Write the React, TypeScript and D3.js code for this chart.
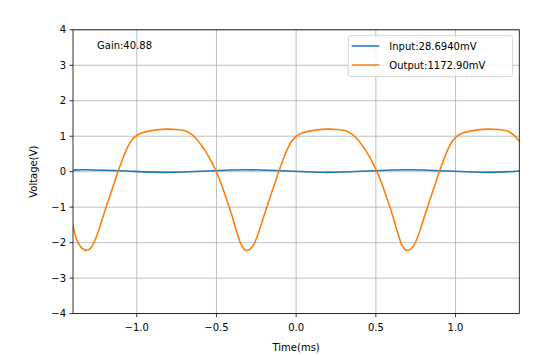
import React from "react";
import * as d3 from "d3";

const outT = [-1.4, -1.378, -1.347, -1.315, -1.284, -1.252, -1.221, -1.19, -1.158, -1.127, -1.095, -1.064, -1.033, -1.001, -0.97, -0.939, -0.876, -0.813, -0.75, -0.688, -0.656, -0.625, -0.594, -0.562, -0.531, -0.499, -0.468, -0.437, -0.405, -0.374, -0.343, -0.324,
  -0.307, -0.276, -0.244, -0.213, -0.182, -0.15, -0.119, -0.087, -0.056, -0.025, 0.007, 0.038, 0.069, 0.132, 0.195, 0.258, 0.32, 0.352, 0.383, 0.414, 0.446, 0.477, 0.509, 0.54, 0.571, 0.603, 0.634, 0.665, 0.684,
  0.701, 0.732, 0.764, 0.795, 0.826, 0.858, 0.889, 0.921, 0.952, 0.983, 1.015, 1.046, 1.077, 1.14, 1.203, 1.266, 1.328, 1.36, 1.4];
const outV = [-1.5, -1.9, -2.14, -2.22, -2.12, -1.82, -1.4, -0.97, -0.54, -0.12, 0.28, 0.63, 0.88, 1.02, 1.09, 1.13, 1.18, 1.2, 1.19, 1.14, 1.05, 0.92, 0.74, 0.53, 0.28, -0.02, -0.37, -0.77, -1.2, -1.68, -2.08, -2.2,
  -2.22, -2.12, -1.82, -1.4, -0.97, -0.54, -0.12, 0.28, 0.63, 0.88, 1.02, 1.09, 1.13, 1.18, 1.2, 1.19, 1.14, 1.05, 0.92, 0.74, 0.53, 0.28, -0.02, -0.37, -0.77, -1.2, -1.68, -2.08, -2.2,
  -2.22, -2.12, -1.82, -1.4, -0.97, -0.54, -0.12, 0.28, 0.63, 0.88, 1.02, 1.09, 1.13, 1.18, 1.2, 1.19, 1.14, 1.05, 0.86];

const inT = [-1.4, -1.315, -1.063, -0.811, -0.559, -0.307, -0.055, 0.197, 0.449, 0.701, 0.953, 1.205, 1.4];
const inV = [0.045, 0.055, 0.018, -0.018, 0.018, 0.055, 0.018, -0.018, 0.018, 0.055, 0.018, -0.018, 0.02];

const xTicks = [-1.0, -0.5, 0.0, 0.5, 1.0];
const yTicks = [-4, -3, -2, -1, 0, 1, 2, 3, 4];
const legendLabels = ["Input:28.6940mV", "Output:1172.90mV"];
const gainLabel = "Gain:40.88";
const colors = ["#1f77b4", "#ff7f0e"];

const W = 539, H = 355;
const L = 73, R = 519.3, T = 29.8, B = 313.6;
const font = "DejaVu Sans, sans-serif";

export default function App() {
  const x = d3.scaleLinear().domain([-1.4, 1.4]).range([L, R]);
  const y = d3.scaleLinear().domain([-4, 4]).range([B, T]);
  const fmtX = (v: number) => d3.format(".1f")(v).replace("-", "\u2212");
  const fmtY = (v: number) => String(v).replace("-", "\u2212");

  const outPts = outT.map((t, i) => [t, outV[i]] as [number, number]);
  const inPts = inT.map((t, i) => [t, inV[i]] as [number, number]);
  const lineOut = d3.line<[number, number]>().x(d => x(d[0])).y(d => y(d[1])).curve(d3.curveCatmullRom.alpha(0.5));
  const lineIn = d3.line<[number, number]>().x(d => x(d[0])).y(d => y(d[1])).curve(d3.curveNatural);

  return (
    <svg width={W} height={H} style={{ position: "absolute", left: 0, top: 0, background: "#fff" }} fontFamily={font}>
      <rect x={0} y={0} width={W} height={H} fill="#fff" />
      <defs>
        <clipPath id="plotclip"><rect x={L} y={T} width={R - L} height={B - T} /></clipPath>
      </defs>
      {xTicks.map(t => (
        <line key={"gx" + t} x1={x(t)} x2={x(t)} y1={T} y2={B} stroke="#b0b0b0" strokeWidth={0.8} />
      ))}
      {yTicks.map(t => (
        <line key={"gy" + t} x1={L} x2={R} y1={y(t)} y2={y(t)} stroke="#b0b0b0" strokeWidth={0.8} />
      ))}
      <g clipPath="url(#plotclip)">
        <path d={lineIn(inPts) || ""} fill="none" stroke={colors[0]} strokeWidth={1.6} />
        <path d={lineOut(outPts) || ""} fill="none" stroke={colors[1]} strokeWidth={1.6} />
      </g>
      <rect x={L} y={T} width={R - L} height={B - T} fill="none" stroke="#000" strokeWidth={0.8} />
      {xTicks.map(t => (
        <g key={"tx" + t}>
          <line x1={x(t)} x2={x(t)} y1={B} y2={B + 3.5} stroke="#000" strokeWidth={0.8} />
          <text x={x(t)} y={B + 17.5} fontSize={10} textAnchor="middle" fill="#000">{fmtX(t)}</text>
        </g>
      ))}
      {yTicks.map(t => (
        <g key={"ty" + t}>
          <line x1={L - 3.5} x2={L} y1={y(t)} y2={y(t)} stroke="#000" strokeWidth={0.8} />
          <text x={L - 7} y={y(t) + 3.6} fontSize={10} textAnchor="end" fill="#000">{fmtY(t)}</text>
        </g>
      ))}
      <text x={(L + R) / 2} y={351} fontSize={10} textAnchor="middle" fill="#000">Time(ms)</text>
      <text transform={`translate(37,${(T + B) / 2}) rotate(-90)`} fontSize={10} textAnchor="middle" fill="#000">Voltage(V)</text>
      <text x={97} y={48.5} fontSize={10} fill="#000">{gainLabel}</text>
      <rect x={348.3} y={35.7} width={164.4} height={41} rx={2.5} fill="#fff" fillOpacity={0.8} stroke="#cccccc" strokeWidth={0.8} />
      {legendLabels.map((lab, i) => (
        <g key={lab}>
          <line x1={351.7} x2={379.3} y1={46 + i * 19} y2={46 + i * 19} stroke={colors[i]} strokeWidth={1.5} />
          <text x={389.3} y={46 + i * 19 + 3.6} fontSize={10} fill="#000">{lab}</text>
        </g>
      ))}
    </svg>
  );
}
